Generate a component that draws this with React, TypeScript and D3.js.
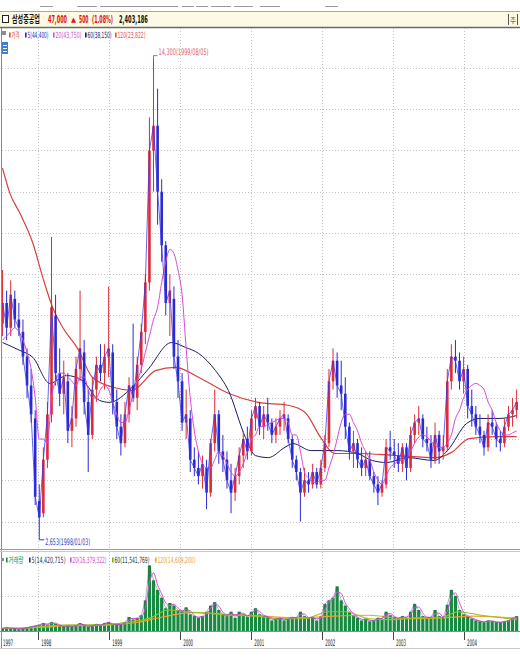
import React from 'react';
import * as d3 from 'd3';

// ---------- DATA ----------
const candleStart = '1997-07-01';
const candleStepDays = 21;

const opens = [
  7800, 8300, 7700, 8400, 7900, 7600, 7000, 6300, 5500, 3500,
  3200, 4500, 5600, 8000, 6600, 6100, 6400, 5200, 5500, 6700,
  7100, 5900, 5100, 6200, 6800, 6600, 7000, 7100, 5900, 5300,
  4900, 5600, 6300, 6000, 6800, 7600, 8800, 12000, 12600, 11000,
  9700, 8300, 8400, 7000, 6400, 5400, 5500, 4500, 4300, 4100,
  4300, 3700, 4900, 5600, 4700, 4500, 4000, 3700, 4100, 4600,
  5000, 4700, 5500, 5800, 5300, 5600, 5400, 5100, 5300, 5500,
  5500, 5000, 4500, 4200, 3700, 4000, 3900, 4200, 3900, 4300,
  4900, 6400, 6900, 6300, 6100, 5300, 4700, 4900, 4500, 4300,
  4500, 4100, 3900, 3700, 3900, 4800, 4700, 4600, 4400, 4800,
  4300, 5100, 5400, 5500, 5000, 4900, 4500, 5100, 4700, 4800,
  6400, 7000, 6900, 6400, 6700, 5800, 5600, 5300, 5100, 4800,
  5400, 5300, 5000, 4900, 5300, 5600, 5700,
];
const highs = [
  9100, 8600, 8850, 8600, 8300, 7900, 7200, 6700, 5700, 3900,
  4800, 5900, 9900, 8500, 7200, 6900, 6600, 5800, 7000, 8600,
  7400, 6200, 6500, 7000, 7300, 7300, 8700, 7300, 6200, 5600,
  5900, 6500, 7800, 7000, 7800, 9000, 12800, 14300, 13500, 11300,
  9800, 9000, 8700, 7400, 6600, 6200, 5700, 4800, 4700, 4600,
  4500, 5000, 6200, 5700, 5100, 4700, 4400, 4300, 4800, 5200,
  5300, 5700, 6000, 5900, 5800, 6000, 5500, 5500, 5700, 5900,
  5600, 5100, 4600, 4300, 4300, 4200, 4400, 4300, 4500, 5100,
  6700, 7200, 7100, 6900, 6500, 5400, 5200, 5000, 4800, 4700,
  4700, 4200, 4100, 4000, 5000, 5200, 5000, 4900, 4900, 4900,
  5300, 5600, 5800, 5600, 5300, 5100, 5400, 5200, 5100, 6700,
  7300, 7400, 7100, 7000, 6800, 6200, 5800, 5600, 5200, 5600,
  5700, 5400, 5200, 5500, 5800, 6000, 6200,
];
const lows = [
  7500, 7400, 7500, 7700, 7500, 6800, 6000, 5400, 3400, 2653,
  3100, 4300, 5400, 6300, 5800, 5600, 4900, 4800, 5300, 6400,
  5600, 4200, 5000, 5900, 6400, 6200, 6500, 5600, 5000, 4600,
  4800, 5400, 5900, 5700, 6600, 7300, 8600, 11000, 10200, 9300,
  8000, 7500, 6700, 6000, 5200, 5000, 4200, 4100, 3900, 3800,
  3300, 3600, 4700, 4400, 4200, 3800, 3200, 3500, 3900, 4300,
  4500, 4600, 5200, 5100, 5000, 5200, 4900, 4900, 5100, 5200,
  4900, 4300, 4000, 3000, 3600, 3700, 3800, 3800, 3800, 4200,
  4800, 6200, 6000, 5700, 5000, 4500, 4300, 4300, 4100, 4100,
  4000, 3700, 3400, 3600, 3800, 4500, 4300, 4200, 4200, 4000,
  4200, 4900, 5100, 4800, 4700, 4300, 4400, 4400, 4500, 4700,
  6200, 6600, 6200, 6100, 5500, 5300, 5100, 4900, 4600, 4700,
  5100, 4800, 4700, 4800, 5200, 5300, 5500,
];
const closes = [
  8300, 7700, 8500, 7900, 7700, 7000, 6300, 5600, 3600, 3100,
  4500, 5600, 8200, 6600, 6100, 6500, 5200, 5500, 6700, 7200,
  5900, 5100, 6200, 6800, 6600, 7000, 7200, 5900, 5300, 4900,
  5600, 6300, 6000, 6800, 7600, 8800, 12000, 12600, 11000, 9700,
  8300, 8600, 7000, 6400, 5400, 5600, 4500, 4300, 4100, 4400,
  3700, 4900, 5600, 4700, 4500, 4000, 3700, 4100, 4600, 5000,
  4700, 5500, 5800, 5300, 5600, 5400, 5100, 5300, 5500, 5600,
  5000, 4500, 4200, 3700, 4000, 3900, 4200, 3900, 4300, 4900,
  6400, 6900, 6300, 6100, 5300, 4700, 4900, 4500, 4300, 4500,
  4100, 3900, 3700, 3900, 4800, 4700, 4600, 4400, 4800, 4300,
  5100, 5400, 5500, 5000, 4900, 4500, 5100, 4700, 4800, 6400,
  7000, 6900, 6400, 6700, 5800, 5600, 5300, 5100, 4800, 5400,
  5300, 5000, 4900, 5300, 5600, 5700, 5900,
];
// 20-period price moving average read at each candle
const ma20Values = [
  7400, 7500, 7600, 7700, 7600, 7400, 7100, 6700, 6000, 5000,
  5000, 4900, 6000, 6400, 6600, 6600, 6500, 6400, 6300, 6500,
  6500, 6200, 6000, 6000, 6200, 6300, 6200, 5900, 5600, 5400,
  5400, 5700, 6100, 6400, 6700, 7100, 7500, 7900, 8200, 8800,
  9300, 9600, 9500, 9100, 8500, 7200, 6000, 5200, 4700, 4400,
  4300, 4300, 4500, 4700, 4600, 4400, 4200, 4100, 4200, 4400,
  4700, 5000, 5100, 5300, 5300, 5350, 5400, 5450, 5500, 5500,
  5400, 5100, 5100, 4700, 4200, 4050, 3950, 3950, 4000, 4000,
  4300, 4600, 5000, 5400, 5600, 5600, 5400, 5200, 4900, 4700,
  4500, 4200, 4000, 3900, 4100, 4300, 4400, 4450, 4500, 4550,
  4700, 4900, 5050, 5100, 5050, 4950, 4850, 4800, 4800, 4900,
  5100, 5500, 5700, 6000, 6200, 6300, 6350, 6300, 6200, 5900,
  5700, 5400, 5200, 5100, 5100, 5150, 5200,
];
// volume, millions of shares
const volumes = [
  3, 4, 3, 3, 2, 3, 4, 5, 6,
  7, 9, 7, 10, 8, 6, 5, 6, 5, 6, 9,
  6, 5, 6, 8, 6, 9, 10, 7, 8, 7,
  10, 16, 13, 15, 18, 35, 75, 58, 47, 38,
  26, 32, 29, 24, 22, 27, 19, 17, 15, 17,
  22, 29, 33, 24, 19, 17, 22, 15, 22, 19,
  16, 22, 26, 19, 17, 16, 12, 14, 15, 12,
  14, 16, 15, 22, 17, 14, 16, 12, 17, 31,
  35, 38, 51, 35, 29, 22, 17, 15, 12, 14,
  11, 12, 15, 14, 22, 18, 16, 14, 17, 15,
  22, 31, 24, 17, 15, 16, 24, 17, 15, 30,
  47, 40, 24, 19, 16, 14, 12, 11, 10, 12,
  11, 10, 10, 11, 12, 15, 17,
];

const ma60Dates = ['1997-07-01','1997-09-28','1997-12-04','1998-03-01','1998-05-27','1998-08-16','1998-11-11','1999-01-01','1999-04-28','1999-07-23','1999-11-17','2000-01-30','2000-04-04','2000-07-01','2000-09-05','2000-12-02','2001-01-22','2001-03-30','2001-06-24','2001-08-03','2001-11-05','2002-03-20','2002-07-01','2002-09-16','2002-12-01','2003-03-15','2003-07-31','2003-10-08','2004-01-15','2004-03-24','2004-07-04','2004-09-28'];
const ma60Values = [7340,7150,6980,6350,6540,6420,5940,5890,6250,6710,7340,7220,7080,6660,6180,5040,4600,4550,4800,4890,4720,4720,4650,4480,4430,4550,4480,4720,5380,5500,5500,5570];

const ma120Dates = ['1997-07-01','1997-08-08','1997-09-28','1997-12-04','1998-01-24','1998-03-16','1998-05-06','1998-07-22','1998-10-06','1999-01-26','1999-04-28','1999-08-28','1999-12-08','2000-04-04','2000-09-05','2001-02-06','2001-07-09','2001-10-04','2001-12-24','2002-03-05','2002-07-01','2003-01-20','2003-08-11','2003-10-27','2004-01-27','2004-06-13','2004-09-28'];
const ma120Values = [11570,10960,10480,9750,8920,8190,7710,7200,6500,6250,6180,6660,6740,6500,6110,5890,5820,5650,5040,4650,4650,4600,4550,4670,5010,5060,5060];

const volMa60Dates = ['1997-07-01','1997-12-01','1998-03-01','1998-07-01','1998-12-01','1999-04-01','1999-08-01','1999-11-01','2000-02-01','2000-06-01','2000-10-01','2001-02-01','2001-06-01','2001-10-01','2002-02-01','2002-05-01','2002-09-01','2003-01-01','2003-05-01','2003-09-01','2003-12-01','2004-04-01','2004-09-28'];
const volMa60Values = [3,4,6,7,7,10,15,24,22,20,18,17,14,14,22,22,14,13,15,15,22,18,13];

const volMa120Dates = ['1997-07-01','1998-01-01','1998-06-01','1999-01-01','1999-06-01','1999-10-01','2000-03-01','2000-09-01','2001-03-01','2001-09-01','2002-03-01','2002-09-01','2003-03-01','2003-09-01','2004-03-01','2004-09-28'];
const volMa120Values = [3,4,6,7,10,16,21,19,17,15,17,18,14,15,17,14.6];

const yearLabels = ['1997','1998','1999','2000','2001','2002','2003','2004'];
const priceGrid = [3000,4000,5000,6000,7000,8000,9000,10000,11000,12000,13000,14000];
const volGrid = [40];

const stockName = '삼성중공업';
const lastPrice = '47,000';
const change = '500';
const changePct = '(1.08%)';
const lastVolume = '2,403,186';
const priceLegend = [
  { label: '가격', color: '#e04848', mark: '#e04848' },
  { label: '5(44,400)', color: '#2c2cc0', mark: '#2c2cc0' },
  { label: '20(43,750)', color: '#d050d0', mark: '#d050d0' },
  { label: '60(38,150)', color: '#202060', mark: '#202060' },
  { label: '120(23,822)', color: '#e05050', mark: '#e05050' },
];
const volLegend = [
  { label: '거래량', color: '#109040', mark: '#109040' },
  { label: '5(14,420,715)', color: '#303060', mark: '#303060' },
  { label: '20(16,379,322)', color: '#d050d0', mark: '#d050d0' },
  { label: '60(11,541,769)', color: '#2a3a2a', mark: '#7fae20' },
  { label: '120(14,609,200)', color: '#f0a040', mark: '#f0a040' },
];
const peakLabel = '14,300(1999/08/05)';
const lowLabel = '2,653(1998/01/03)';

// ---------- helpers ----------
const parse = d3.timeParse('%Y-%m-%d');
const startDate = parse(candleStart) as Date;
const candleDates = opens.map((_, i) => d3.timeDay.offset(startDate, i * candleStepDays));

const NUM = "'DejaVu Sans Condensed','Liberation Sans',sans-serif";
const KR = "'Noto Sans CJK KR','Noto Sans',sans-serif";

let measureCtx: CanvasRenderingContext2D | null = null;
function measureText(text: string, font: string): number {
  if (!measureCtx && typeof document !== 'undefined') {
    measureCtx = document.createElement('canvas').getContext('2d');
  }
  if (!measureCtx) return 0;
  measureCtx.font = font;
  return measureCtx.measureText(text).width;
}

function NText(props: {
  x: number; y: number; w: number; size: number; family: string; weight?: number; fill: string; children: string;
}) {
  const { x, y, w, size, family, weight = 400, fill, children } = props;
  const nat = measureText(children, `${weight} ${size}px ${family}`) || w;
  const sx = w / nat;
  return (
    <text transform={`translate(${x},${y}) scale(${sx},1)`} fontSize={size} fontFamily={family} fontWeight={weight} fill={fill}>
      {children}
    </text>
  );
}

export default function App() {
  const x = d3.scaleTime().domain([new Date(1998, 0, 1), new Date(2004, 0, 1)]).range([38.3, 464]);
  const y = d3.scaleLinear().domain([3000, 14000]).range([521.5, 68]);
  const yv = d3.scaleLinear().domain([0, 40]).range([631, 596]);

  const volMa20 = volumes.map((v, i) => (i === 0 ? v : (volumes[i - 1] + v) / 2));

  const lineP = d3.line<[Date, number]>().x(d => x(d[0])).y(d => y(d[1]));
  const lineSmooth = d3.line<[Date, number]>().x(d => x(d[0])).y(d => y(d[1])).curve(d3.curveMonotoneX);
  const lineV = d3.line<[Date, number]>().x(d => x(d[0])).y(d => yv(d[1]));
  const lineVSmooth = d3.line<[Date, number]>().x(d => x(d[0])).y(d => yv(d[1])).curve(d3.curveMonotoneX);

  const zipDates = (ds: string[], vs: number[]) => ds.map((d, i) => [parse(d) as Date, vs[i]] as [Date, number]);
  const zipCandles = (vs: number[]) => vs.map((v, i) => [candleDates[i], v] as [Date, number]);

  const yearDates = yearLabels.map((yl, i) => (i === 0 ? startDate : new Date(+yl, 0, 1)));

  const peakIdx = highs.indexOf(d3.max(highs) as number);
  const lowIdx = lows.indexOf(d3.min(lows) as number);
  const px = x(candleDates[peakIdx]);
  const py = y(highs[peakIdx]);
  const lx = x(candleDates[lowIdx]);
  const ly = y(lows[lowIdx]);

  const toolbarSegs = [[40, 53], [77, 97], [100, 178], [182, 194], [196, 208], [211, 231], [234, 253], [260, 280], [325, 338]];

  const legendX = [9, 25, 53, 85, 115];
  const legendW = [11, 24, 29, 27, 31];
  const volLegendX = [6, 29, 70, 112, 155];
  const volLegendW = [18, 37, 37, 38, 41];

  return (
    <svg width={520} height={660} style={{ position: 'absolute', left: 0, top: 0, background: '#fff' }}>
      <defs>
        <clipPath id="mainClip"><rect x={2} y={28} width={518} height={522} /></clipPath>
        <clipPath id="volClip"><rect x={2} y={551} width={518} height={80} /></clipPath>
      </defs>
      <rect width={520} height={660} fill="#fff" />
      {/* toolbar remnants */}
      {toolbarSegs.map((s, i) => (
        <line key={i} x1={s[0]} x2={s[1]} y1={6.5} y2={6.5} stroke="#9a9a9a" strokeWidth={1} />
      ))}
      {/* title bar */}
      <rect x={0} y={11} width={520} height={16.5} fill="#fcfae4" />
      <line x1={0} x2={520} y1={11.5} y2={11.5} stroke="#a8a8a8" />
      <line x1={0} x2={520} y1={27.5} y2={27.5} stroke="#6a6a6a" strokeWidth={1.5} />
      <rect x={2.5} y={15.5} width={6} height={7} fill="#fff" stroke="#222" strokeWidth={1} />
      <NText x={12} y={23} w={28} size={10} weight={700} family={KR} fill="#111">{stockName}</NText>
      <NText x={48} y={23} w={19} size={11} weight={700} family={NUM} fill="#e01010">{lastPrice}</NText>
      <NText x={71} y={22} w={5} size={7} family={NUM} fill="#e01010">▲</NText>
      <NText x={79} y={23} w={9.5} size={11} weight={700} family={NUM} fill="#e01010">{change}</NText>
      <NText x={92} y={23} w={21} size={11} weight={700} family={NUM} fill="#e01010">{changePct}</NText>
      <NText x={119} y={23} w={29} size={11} weight={700} family={NUM} fill="#111">{lastVolume}</NText>
      <line x1={508.5} x2={508.5} y1={14} y2={25} stroke="#555" />
      <line x1={517.5} x2={517.5} y1={14} y2={25} stroke="#555" />
      <NText x={510} y={23} w={6} size={7} family={KR} fill="#333">주</NText>

      {/* panel borders */}
      <line x1={1.5} x2={1.5} y1={28} y2={648} stroke="#8a8a8a" />
      <line x1={0} x2={520} y1={549.5} y2={549.5} stroke="#9a9a9a" />
      <line x1={0} x2={520} y1={551.5} y2={551.5} stroke="#c8c8c8" />
      <line x1={0} x2={520} y1={631.5} y2={631.5} stroke="#8a8a8a" />
      <line x1={0} x2={520} y1={648.5} y2={648.5} stroke="#c8c8c8" />

      {/* grid */}
      {priceGrid.map(v => (
        <line key={v} x1={2} x2={520} y1={Math.round(y(v)) + 0.5} y2={Math.round(y(v)) + 0.5} stroke="#c4c4c4" strokeDasharray="1,2" />
      ))}
      {volGrid.map(v => (
        <line key={v} x1={2} x2={520} y1={Math.round(yv(v)) + 0.5} y2={Math.round(yv(v)) + 0.5} stroke="#c4c4c4" strokeDasharray="1,2" />
      ))}
      {yearDates.slice(1).map((d, i) => (
        <g key={i}>
          <line x1={Math.round(x(d)) + 0.5} x2={Math.round(x(d)) + 0.5} y1={28} y2={549} stroke="#c4c4c4" strokeDasharray="1,2" />
          <line x1={Math.round(x(d)) + 0.5} x2={Math.round(x(d)) + 0.5} y1={552} y2={631} stroke="#c4c4c4" strokeDasharray="1,2" />
        </g>
      ))}

      {/* price panel */}
      <g clipPath="url(#mainClip)">
        <path d={lineSmooth(zipDates(ma120Dates, ma120Values)) || ''} fill="none" stroke="#d84040" strokeWidth={1.2} />
        <path d={lineSmooth(zipDates(ma60Dates, ma60Values)) || ''} fill="none" stroke="#1c1c66" strokeWidth={1} />
        {candleDates.map((d, i) => {
          const up = closes[i] >= opens[i];
          const col = up ? '#e02a36' : '#2a2ad4';
          const cx = x(d);
          const top = y(Math.max(opens[i], closes[i]));
          const bot = y(Math.min(opens[i], closes[i]));
          return (
            <g key={i}>
              <line x1={cx} x2={cx} y1={y(highs[i])} y2={y(lows[i])} stroke={col} strokeWidth={1} />
              <rect x={cx - 1.3} y={top} width={2.6} height={Math.max(1, bot - top)} fill={col} />
            </g>
          );
        })}
        <path d={lineSmooth(zipCandles(ma20Values)) || ''} fill="none" stroke="#d848d8" strokeWidth={1} />
        <path d={lineP(zipCandles(closes)) || ''} fill="none" stroke="#3535e8" strokeWidth={0.9} opacity={0.85} />
      </g>

      {/* annotations */}
      <path d={`M${px},${py + 3}V${py}H${px + 4}`} fill="none" stroke="#e06070" strokeWidth={1} />
      <NText x={px + 5} y={py - 1} w={50} size={9} family={NUM} fill="#e06070">{peakLabel}</NText>
      <path d={`M${lx},${ly}V${ly + 4}H${lx + 5}`} fill="none" stroke="#3040c0" strokeWidth={1} />
      <NText x={lx + 6} y={ly + 9} w={45} size={9} family={NUM} fill="#3040c0">{lowLabel}</NText>

      {/* price legend */}
      <rect x={2} y={31} width={4} height={4} fill="#8c8c9c" />
      {priceLegend.map((l, i) => (
        <g key={i}>
          <rect x={legendX[i]} y={32.5} width={1.6} height={5} fill={l.mark} />
          <NText x={legendX[i] + 2.5} y={38} w={legendW[i] - 3} size={8.5} family={i === 0 ? KR : NUM} fill={l.color}>{l.label}</NText>
        </g>
      ))}
      <rect x={2} y={42} width={6} height={12} fill="#3f7fcf" />
      <line x1={3} x2={7} y1={45.5} y2={45.5} stroke="#fff" />
      <line x1={3} x2={7} y1={48.5} y2={48.5} stroke="#fff" />
      <line x1={3} x2={7} y1={51.5} y2={51.5} stroke="#fff" />

      {/* volume panel */}
      <g clipPath="url(#volClip)">
        {candleDates.map((d, i) => (
          <rect key={i} x={x(d) - 1.6} y={yv(volumes[i])} width={3.2} height={631 - yv(volumes[i])} fill="#158a40" />
        ))}
        <path d={lineVSmooth(zipDates(volMa120Dates, volMa120Values)) || ''} fill="none" stroke="#f0a030" strokeWidth={1.2} />
        <path d={lineVSmooth(zipDates(volMa60Dates, volMa60Values)) || ''} fill="none" stroke="#9cc020" strokeWidth={1.2} />
        <path d={lineVSmooth(zipCandles(volMa20)) || ''} fill="none" stroke="#d850d8" strokeWidth={1} />
        <path d={lineV(zipCandles(volumes)) || ''} fill="none" stroke="#505070" strokeWidth={0.7} opacity={0.6} />
      </g>
      <rect x={1} y={558} width={3} height={3} fill="#8c8c9c" />
      {volLegend.map((l, i) => (
        <g key={i}>
          <rect x={volLegendX[i]} y={557.5} width={1.6} height={5} fill={l.mark} />
          <NText x={volLegendX[i] + 2.5} y={563} w={volLegendW[i] - 3} size={8.5} family={i === 0 ? KR : NUM} fill={l.color}>{l.label}</NText>
        </g>
      ))}

      {/* x axis */}
      {yearDates.map((d, i) => (
        <g key={i}>
          {i > 0 && <line x1={Math.round(x(d)) + 0.5} x2={Math.round(x(d)) + 0.5} y1={632} y2={640} stroke="#444" />}
          <NText x={i === 0 ? 3 : x(d) + 3} y={646} w={10} size={9} family={NUM} fill="#222">{yearLabels[i]}</NText>
        </g>
      ))}
    </svg>
  );
}
